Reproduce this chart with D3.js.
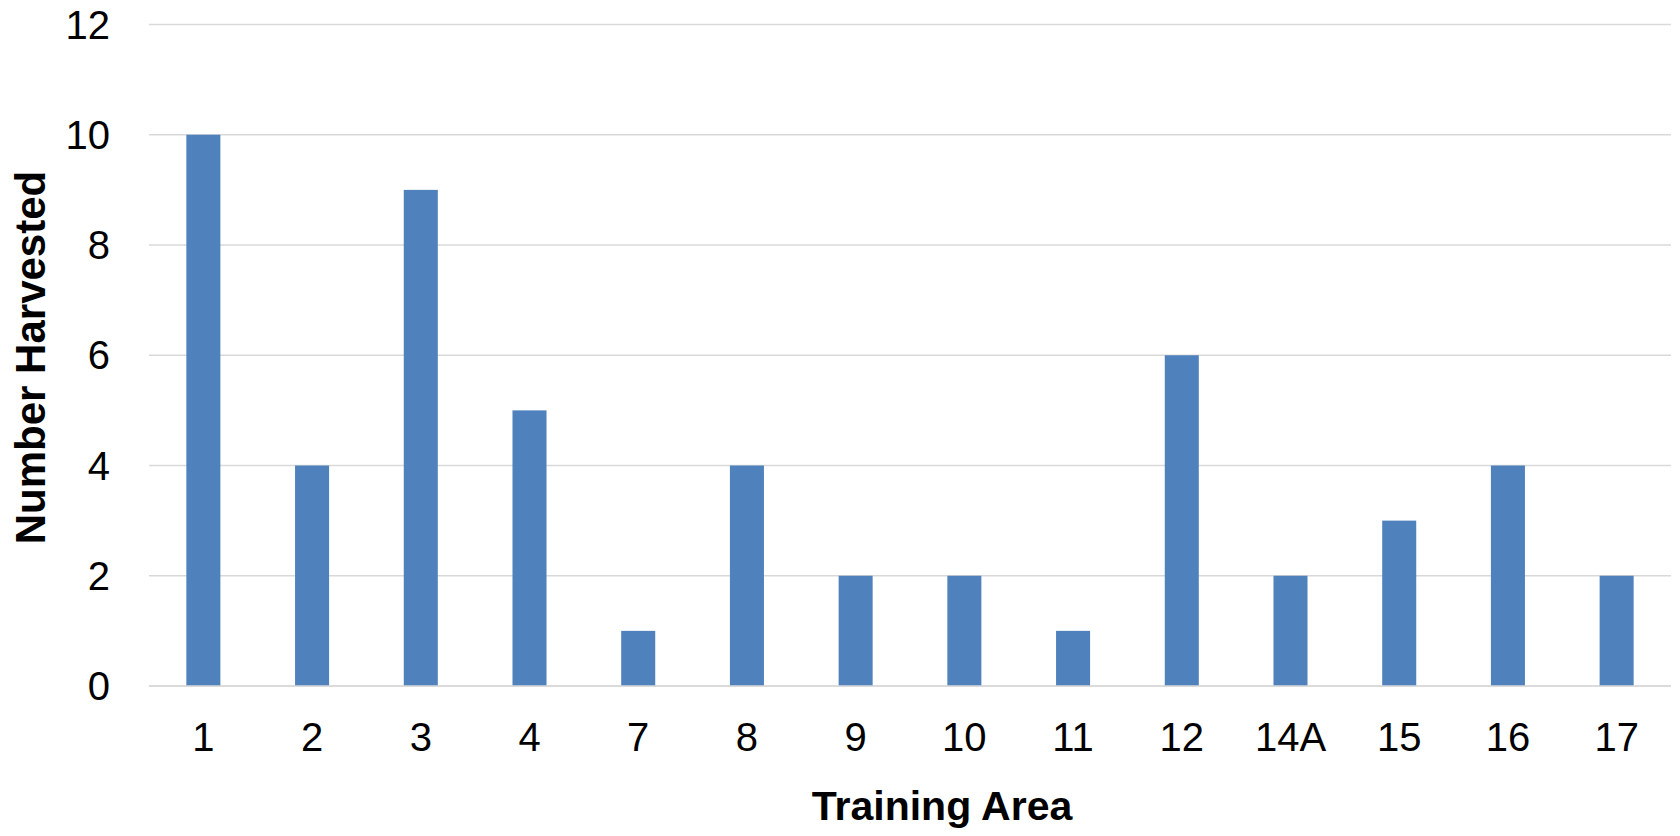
<!DOCTYPE html>
<html>
<head>
<meta charset="utf-8">
<script src="https://cdn.jsdelivr.net/npm/d3@7"></script>
<style>
  html, body { margin: 0; padding: 0; background: #ffffff; }
  svg { display: block; font-family: "Liberation Sans", Arial, sans-serif; }
</style>
</head>
<body>
<svg id="chart" width="1680" height="836"></svg>
<script>
const categories = ["1", "2", "3", "4", "7", "8", "9", "10", "11", "12", "14A", "15", "16", "17"];
const values = [10, 4, 9, 5, 1, 4, 2, 2, 1, 6, 2, 3, 4, 2];
const yTicks = [0, 2, 4, 6, 8, 10, 12];
const xTitle = "Training Area";
const yTitle = "Number Harvested";

const svg = d3.select("#chart");
const plot = { left: 149, right: 1671, top: 24.5, bottom: 686 };

const x = d3.scaleBand().domain(categories).range([plot.left, plot.right]).padding(0);
const y = d3.scaleLinear().domain([0, 12]).range([plot.bottom, plot.top]);
const barW = x.step() * 0.313;

// gridlines
svg.append("g").selectAll("line").data(yTicks).join("line")
  .attr("x1", plot.left).attr("x2", plot.right)
  .attr("y1", d => y(d)).attr("y2", d => y(d))
  .attr("stroke", "#d9d9d9").attr("stroke-width", 1.5);

// y tick labels
svg.append("g").selectAll("text").data(yTicks).join("text")
  .attr("x", 110).attr("y", d => y(d)).attr("dy", "0.35em")
  .attr("text-anchor", "end").attr("font-size", 40).attr("fill", "#000")
  .text(d => d);

// bars
svg.append("g").selectAll("rect").data(values).join("rect")
  .attr("x", (d, i) => x(categories[i]) + x.bandwidth() / 2 - barW / 2)
  .attr("width", barW)
  .attr("y", d => y(d))
  .attr("height", d => y(0) - y(d))
  .attr("fill", "#4f81bd");

// redraw baseline on top
svg.append("line")
  .attr("x1", plot.left).attr("x2", plot.right)
  .attr("y1", y(0)).attr("y2", y(0))
  .attr("stroke", "#d9d9d9").attr("stroke-width", 1.5);

// x tick labels
svg.append("g").selectAll("text").data(categories).join("text")
  .attr("x", d => x(d) + x.bandwidth() / 2).attr("y", 751)
  .attr("text-anchor", "middle").attr("font-size", 40).attr("fill", "#000")
  .text(d => d);

// axis titles
svg.append("text")
  .attr("x", 942).attr("y", 820)
  .attr("text-anchor", "middle").attr("font-size", 41).attr("font-weight", "bold")
  .attr("fill", "#000").text(xTitle);

svg.append("text")
  .attr("transform", "translate(45,357.5) rotate(-90)")
  .attr("text-anchor", "middle").attr("font-size", 42).attr("font-weight", "bold")
  .attr("fill", "#000").text(yTitle);
</script>
</body>
</html>
